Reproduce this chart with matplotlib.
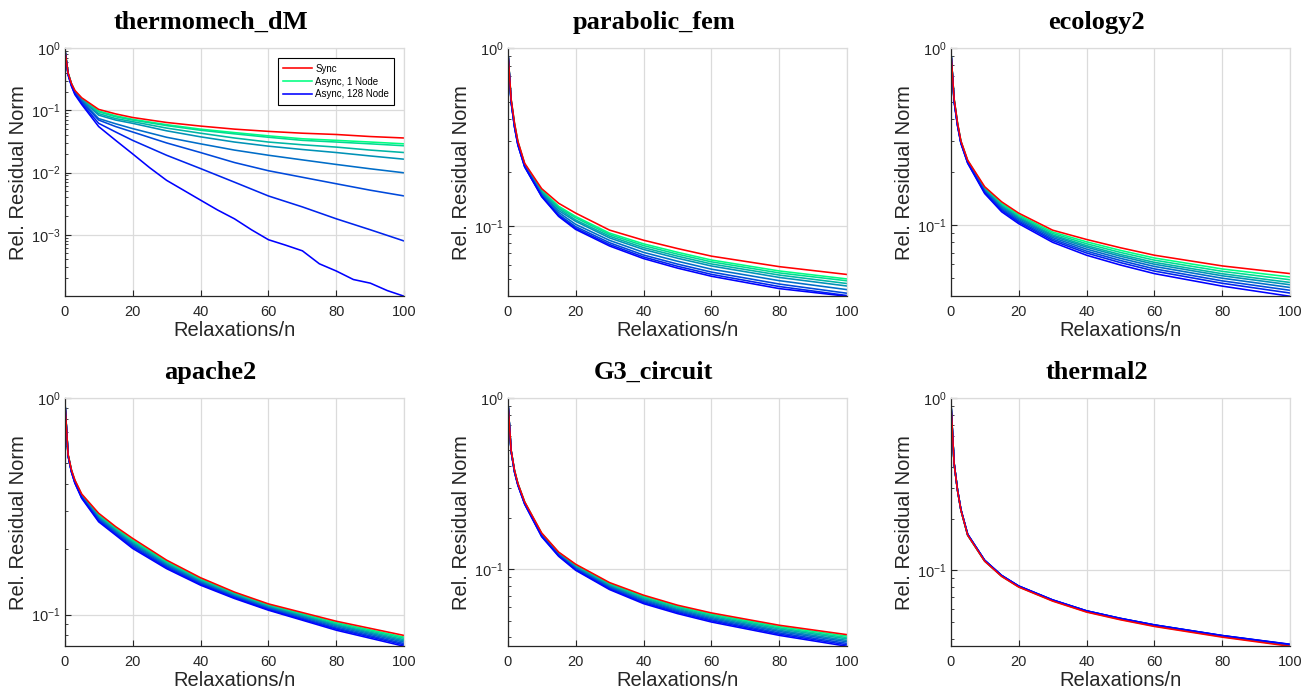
import numpy as np
import matplotlib
matplotlib.use("Agg")
import matplotlib.pyplot as plt
from matplotlib.ticker import LogLocator, NullFormatter

plt.rcParams['font.family'] = ['Liberation Sans', 'DejaVu Sans']
plt.rcParams['mathtext.fontset'] = 'custom'
plt.rcParams['mathtext.rm'] = 'Liberation Sans'
plt.rcParams['mathtext.it'] = 'Liberation Sans:italic'

# ---- data ----
nodes = [1, 2, 4, 8, 16, 32, 64, 128]

# thermomech_dM
thermo_x = [0, 1, 2, 3, 5, 10, 15, 20, 30, 40, 50, 60, 70, 80, 90, 100]
thermo_x128 = [0, 1, 2, 3, 5, 10, 15, 20, 25, 30, 35, 40, 45, 50, 55, 60, 65, 70, 75, 80, 85, 90, 95, 100]
thermo_sync = [1, .40, .27, .21, .16, .104, .088, .077, .064, .056, .050, .046, .043, .041, .038, .036]
thermo_a1 = [1, .40, .27, .205, .155, .098, .082, .072, .059, .050, .044, .039, .035, .033, .031, .029]
thermo_a2 = [1, .40, .265, .205, .153, .095, .079, .070, .057, .048, .042, .037, .033, .031, .029, .027]
thermo_a4 = [1, .39, .265, .20, .150, .089, .074, .066, .052, .043, .036, .031, .028, .0257, .023, .021]
thermo_a8 = [1, .39, .26, .20, .147, .084, .070, .062, .047, .0376, .031, .0266, .0235, .021, .0185, .0164]
thermo_a16 = [1, .39, .26, .195, .142, .074, .061, .051, .037, .029, .023, .019, .016, .0135, .0115, .0099]
thermo_a32 = [1, .38, .255, .19, .137, .070, .055, .045, .030, .021, .0145, .0107, .0084, .0066, .0052, .0042]
thermo_a64 = [1, .38, .25, .185, .130, .062, .045, .033, .019, .0116, .0070, .0042, .0028, .0018, .0012, .00079]
thermo_a128 = [1, .37, .245, .18, .125, .055, .033, .020, .012, .0075, .0052, .0036, .0025, .0018, .0012,
               .00083, .00068, .00055, .00034, .00026, .00019, .000166, .000126, .000102]

# the other five matrices share one x grid
grid_x = [0, 1, 2, 3, 5, 10, 15, 20, 30, 40, 50, 60, 80, 100]

parab_sync = [1, .52, .38, .30, .225, .162, .134, .118, .0946, .083, .0745, .0675, .0589, .0532]
parab_a1 = [1, .515, .376, .297, .223, .159, .129, .113, .091, .0792, .071, .0642, .0557, .0502]
parab_a2 = [1, .513, .374, .296, .222, .157, .127, .111, .0893, .0774, .0693, .0627, .0543, .049]
parab_a4 = [1, .51, .372, .294, .221, .155, .125, .108, .0874, .0754, .0675, .061, .0528, .0473]
parab_a8 = [1, .508, .369, .292, .22, .153, .122, .106, .0855, .0736, .0657, .0594, .0512, .0458]
parab_a16 = [1, .505, .366, .29, .218, .151, .119, .102, .0828, .0709, .0632, .057, .0491, .0437]
parab_a32 = [1, .502, .363, .287, .216, .148, .116, .099, .0803, .0685, .0609, .0549, .047, .0417]
parab_a64 = [1, .50, .361, .286, .215, .147, .114, .097, .0785, .0668, .0592, .0533, .0455, .0405]
parab_a128 = [1, .50, .36, .285, .215, .146, .113, .0955, .077, .0654, .0578, .052, .0443, .0401]

eco_sync = [1, .52, .38, .30, .233, .165, .1355, .117, .0937, .083, .0745, .0676, .0588, .0532]
eco_a1 = [1, .517, .378, .2985, .2316, .1628, .1329, .1146, .0915, .0805, .0720, .0652, .0565, .0509]
eco_a2 = [1, .515, .376, .297, .2305, .1611, .1308, .1127, .0898, .0785, .0701, .0634, .0548, .0491]
eco_a4 = [1, .512, .374, .296, .2295, .1594, .1288, .1109, .0881, .0766, .0682, .0616, .0531, .0474]
eco_a8 = [1, .510, .373, .295, .2286, .1580, .1272, .1094, .0867, .0751, .0667, .0601, .0517, .0460]
eco_a16 = [1, .508, .371, .294, .2275, .1563, .1252, .1076, .0851, .0732, .0649, .0584, .0501, .0444]
eco_a32 = [1, .505, .369, .293, .2263, .1545, .1231, .1057, .0834, .0713, .0631, .0566, .0484, .0428]
eco_a64 = [1, .503, .367, .2915, .2253, .1529, .1212, .1040, .0818, .0696, .0614, .0550, .0469, .0413]
eco_a128 = [1, .500, .365, .290, .224, .151, .119, .102, .080, .0676, .0595, .0532, .0452, .0396]

apache_sync = [1, .55, .466, .419, .361, .294, .255, .225, .1785, .148, .127, .112, .0931, .080]
apache_a1 = [1, .549, .4643, .4169, .3586, .290, .2516, .2214, .1761, .1463, .1257, .1109, .0918, .0786]
apache_a2 = [1, .547, .463, .4152, .3566, .2869, .2488, .2186, .1742, .1449, .1247, .1099, .0907, .0776]
apache_a4 = [1, .546, .4617, .4135, .3547, .2838, .2461, .2158, .1723, .1435, .1237, .1090, .0897, .0765]
apache_a8 = [1, .545, .4605, .4119, .3529, .2810, .2437, .2133, .1706, .1422, .1227, .1083, .0888, .0755]
apache_a16 = [1, .544, .4592, .4102, .3510, .2779, .2411, .2106, .1687, .1409, .1217, .1074, .0877, .0745]
apache_a32 = [1, .542, .4577, .4084, .3489, .2747, .2382, .2077, .1668, .1394, .1207, .1064, .0866, .0734]
apache_a64 = [1, .541, .4564, .4068, .3470, .2717, .2357, .2050, .1649, .1381, .1197, .1055, .0857, .0724]
apache_a128 = [1, .540, .455, .405, .345, .2685, .233, .2022, .163, .1367, .1186, .1047, .0846, .0713]

g3_sync = [1, .498, .38, .318, .248, .163, .126, .107, .0835, .0705, .0616, .0555, .047, .0414]
g3_a1 = [1, .4972, .3787, .317, .247, .1619, .1251, .1059, .0825, .0695, .0607, .0546, .0462, .0406]
g3_a2 = [1, .496, .3775, .316, .246, .161, .1242, .1048, .0816, .0685, .0599, .0538, .0454, .0398]
g3_a4 = [1, .495, .3762, .315, .245, .160, .1233, .1038, .0806, .0676, .0591, .0530, .0447, .0391]
g3_a8 = [1, .494, .375, .314, .244, .159, .1225, .1027, .0797, .0666, .0582, .0522, .0439, .0383]
g3_a16 = [1, .493, .3737, .313, .243, .158, .1217, .1017, .0788, .0657, .0574, .0514, .0432, .0376]
g3_a32 = [1, .492, .3725, .312, .242, .157, .1208, .1006, .0778, .0647, .0566, .0506, .0424, .0368]
g3_a64 = [1, .491, .3712, .311, .241, .156, .1200, .0996, .0769, .0638, .0558, .0499, .0417, .0361]
g3_a128 = [1, .49, .37, .31, .24, .155, .119, .0986, .076, .0629, .055, .0491, .041, .0354]

therm2_sync = [1, .418, .292, .224, .160, .113, .0922, .0800, .0663, .0572, .0516, .0472, .0409, .0362]
therm2_a1 = [1, .418, .292, .224, .160, .1133, .0925, .0803, .0666, .0575, .0519, .0475, .0412, .0365]
therm2_a2 = [1, .419, .292, .224, .160, .1135, .0927, .0805, .0668, .0577, .0521, .0477, .0413, .0366]
therm2_a4 = [1, .419, .293, .225, .161, .1137, .0929, .0806, .0669, .0578, .0522, .0478, .0414, .0367]
therm2_a8 = [1, .419, .293, .225, .161, .1139, .0930, .0807, .0670, .0579, .0523, .0479, .0415, .0368]
therm2_a16 = [1, .420, .293, .225, .161, .1141, .0932, .0809, .0671, .0580, .0524, .0480, .0416, .0369]
therm2_a32 = [1, .420, .294, .226, .162, .1143, .0933, .0810, .0672, .0581, .0525, .0481, .0417, .0370]
therm2_a64 = [1, .420, .294, .226, .162, .1144, .0934, .0811, .0673, .0582, .0526, .0482, .0418, .0371]
therm2_a128 = [1, .420, .294, .226, .162, .1145, .0935, .0812, .0674, .0582, .0526, .0482, .0418, .0372]

panels = [
    ('thermomech_dM', thermo_sync,
     [(thermo_x, thermo_a1), (thermo_x, thermo_a2), (thermo_x, thermo_a4), (thermo_x, thermo_a8),
      (thermo_x, thermo_a16), (thermo_x, thermo_a32), (thermo_x, thermo_a64), (thermo_x128, thermo_a128)],
     thermo_x),
    ('parabolic_fem', parab_sync,
     [(grid_x, s) for s in [parab_a1, parab_a2, parab_a4, parab_a8, parab_a16, parab_a32, parab_a64, parab_a128]],
     grid_x),
    ('ecology2', eco_sync,
     [(grid_x, s) for s in [eco_a1, eco_a2, eco_a4, eco_a8, eco_a16, eco_a32, eco_a64, eco_a128]],
     grid_x),
    ('apache2', apache_sync,
     [(grid_x, s) for s in [apache_a1, apache_a2, apache_a4, apache_a8, apache_a16, apache_a32, apache_a64, apache_a128]],
     grid_x),
    ('G3_circuit', g3_sync,
     [(grid_x, s) for s in [g3_a1, g3_a2, g3_a4, g3_a8, g3_a16, g3_a32, g3_a64, g3_a128]],
     grid_x),
    ('thermal2', therm2_sync,
     [(grid_x, s) for s in [therm2_a1, therm2_a2, therm2_a4, therm2_a8, therm2_a16, therm2_a32, therm2_a64, therm2_a128]],
     grid_x),
]

# green -> blue for 1 .. 128 nodes
async_colors = [(0.0, 1.0 - t, 0.5 + 0.5 * t) for t in np.linspace(0, 1, len(nodes))]

W, H = 1315, 698
fig = plt.figure(figsize=(W / 100, H / 100), dpi=100)

lefts = [64.7, 507.7, 950.7]
tops = [48.3, 398.3]
aw, ah = 339.6, 248.0

dark = (0.15, 0.15, 0.15)
for i, (name, sync, series, sx) in enumerate(panels):
    row, col = divmod(i, 3)
    rect = [lefts[col] / W, 1 - (tops[row] + ah) / H, aw / W, ah / H]
    ax = fig.add_axes(rect)

    handles = []
    for (xs, ys), c in zip(series, async_colors):
        ln, = ax.plot(xs, ys, color=c, lw=1.15)
        handles.append(ln)
    sl, = ax.plot(sx, sync, color=(1, 0, 0), lw=1.15)

    ax.set_yscale('log')
    ymin = min(min(sync), min(min(ys) for _, ys in series))
    ax.set_ylim(ymin, 1)
    ax.set_xlim(0, 100)
    ax.set_xticks([0, 20, 40, 60, 80, 100])
    ax.yaxis.set_major_locator(LogLocator(base=10, numticks=10))
    ax.yaxis.set_minor_locator(LogLocator(base=10, subs=np.arange(2, 10), numticks=20))
    ax.yaxis.set_minor_formatter(NullFormatter())

    ax.grid(True, which='major', color=(0.86, 0.86, 0.86), lw=0.9)
    ax.set_axisbelow(True)
    for s in ['left', 'bottom']:
        ax.spines[s].set_color(dark)
        ax.spines[s].set_linewidth(0.9)
    for s in ['top', 'right']:
        ax.spines[s].set_color((0.86, 0.86, 0.86))
        ax.spines[s].set_linewidth(0.9)
    ax.tick_params(which='both', direction='in', colors=dark, labelsize=10.5,
                   top=False, right=False)
    ax.tick_params(which='major', length=4, width=0.8)
    ax.tick_params(which='minor', length=2.5, width=0.6)
    ax.tick_params(axis='x', pad=6)
    ax.tick_params(axis='y', pad=3)

    ax.set_xlabel('Relaxations/n', fontsize=14.5, color=dark, labelpad=2)
    ax.set_ylabel('Rel. Residual Norm', fontsize=14.5, color=dark, labelpad=2)
    ax.set_title(name, fontsize=19, fontweight='bold', family='Liberation Serif',
                 x=0.43, pad=14)

    if i == 0:
        ax.legend([sl, handles[0], handles[-1]],
                  ['Sync', 'Async, 1 Node', 'Async, 128 Node'],
                  loc='upper right', bbox_to_anchor=(1 - 10 / aw, 1 - 10 / ah),
                  borderaxespad=0, fontsize=7, fancybox=False, framealpha=1,
                  edgecolor='black', handlelength=3.0, handletextpad=0.3,
                  labelspacing=0.3, borderpad=0.55)
        ax.get_legend().get_frame().set_linewidth(0.8)

fig.savefig('out.png', dpi=100)
